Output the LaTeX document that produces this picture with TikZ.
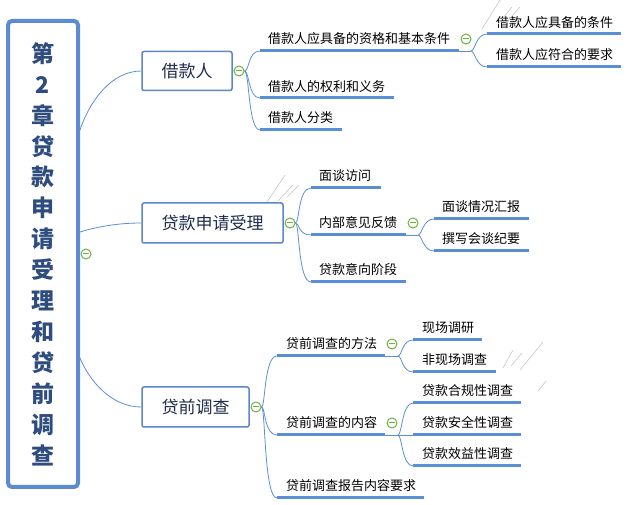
\documentclass[tikz,border=0pt]{standalone}
\usepackage{fontspec}
\newfontfamily\cjk{Noto Sans CJK SC}
\definecolor{lineblue}{HTML}{5A8FD6}
\definecolor{boxblue}{HTML}{5B87C8}
\definecolor{rootblue}{HTML}{5B8CD2}
\definecolor{roottext}{HTML}{2E4C7E}
\definecolor{topictext}{HTML}{1F2D4A}
\definecolor{foldgreen}{HTML}{6DB33F}
\tikzset{
  conn/.style={draw=lineblue, line width=0.8pt},
  uline/.style={draw=lineblue, line width=3pt},
  lbl/.style={anchor=west, inner sep=0pt, font=\cjk\fontsize{13}{13}\selectfont, text=black},
  topic/.style={draw=boxblue, line width=1.5pt, rounded corners=2pt, fill=white,
    font=\cjk\fontsize{17}{17}\selectfont, text=topictext, inner sep=0pt},
  fold/.style={circle, draw=foldgreen, line width=1pt, fill=white, minimum size=10pt, inner sep=0pt,
    path picture={\draw[foldgreen, line width=1pt] ([xshift=-3pt]path picture bounding box.center) -- ([xshift=3pt]path picture bounding box.center);}},
  ghost/.style={draw=gray!45, line width=0.6pt}
}
\begin{document}
\begin{tikzpicture}[x=1pt,y=-1pt]
\useasboundingbox (0,0) rectangle (633,505);

% root
\node[draw=rootblue, line width=4pt, rounded corners=4pt, fill=white, minimum width=70pt, minimum height=466pt,
  align=center, font=\cjk\bfseries\fontsize{23}{30.9}\selectfont, text=roottext, inner sep=0pt]
  (root) at (43,254) {第\\2\\章\\贷\\款\\申\\请\\受\\理\\和\\贷\\前\\调\\查};
\node[fold] (froot) at (86,254) {};

% level 1 topics
\node[topic, minimum width=90pt, minimum height=39pt] (t1) at (187,71) {借款人};
\node[topic, minimum width=141pt, minimum height=40pt] (t2) at (212.5,223) {贷款申请受理};
\node[topic, minimum width=107pt, minimum height=40pt] (t3) at (195.5,407) {贷前调查};

\coordinate (r1) at (80,130);
\coordinate (r2) at (80,232);
\coordinate (r3) at (80,358);
\draw[conn] (r1) .. controls (90,100) and (112,71) .. (t1.west);
\draw[conn] (r2) .. controls (100,226) and (120,223) .. (t2.west);
\draw[conn] (r3) .. controls (90,382) and (112,407) .. (t3.west);

\node[fold] (f1) at (239,71) {};
\node[fold] (f2) at (290,223) {};
\node[fold] (f3) at (256,407) {};

% ---- branch 1
\coordinate (a1s) at (260,51);  \coordinate (a1e) at (459,51);
\coordinate (a2s) at (260,98);  \coordinate (a2e) at (394,98);
\coordinate (a3s) at (260,130); \coordinate (a3e) at (342,130);
\node[lbl] (a1) at (268,39) {借款人应具备的资格和基本条件};
\node[lbl] (a2) at (268,87) {借款人的权利和义务};
\node[lbl] (a3) at (268,118) {借款人分类};
\foreach \s/\e in {a1s/a1e,a2s/a2e,a3s/a3e} \draw[uline] (\s) -- (\e);
\foreach \c in {a1s,a2s,a3s} \draw[conn] (f1.east) .. controls +(5,0) and +(-12,0) .. (\c);
\node[fold] (fa1) at (466,39) {};

\coordinate (j1) at (471,51);
\draw[conn] (a1e) -- (j1);
\coordinate (b1s) at (487,34); \coordinate (b1e) at (621,34);
\coordinate (b2s) at (487,67); \coordinate (b2e) at (621,67);
\node[lbl] (b1) at (496,23) {借款人应具备的条件};
\node[lbl] (b2) at (496,55) {借款人应符合的要求};
\foreach \s/\e in {b1s/b1e,b2s/b2e} \draw[uline] (\s) -- (\e);
\foreach \c in {b1s,b2s} \draw[conn] (j1) .. controls +(4,0) and +(-11,0) .. (\c);

% ---- branch 2
\coordinate (c1s) at (311,188); \coordinate (c1e) at (381,188);
\coordinate (c2s) at (311,235); \coordinate (c2e) at (406,235);
\coordinate (c3s) at (311,282); \coordinate (c3e) at (406,282);
\node[lbl] (c1) at (319,176) {面谈访问};
\node[lbl] (c2) at (319,223) {内部意见反馈};
\node[lbl] (c3) at (319,270) {贷款意向阶段};
\foreach \s/\e in {c1s/c1e,c2s/c2e,c3s/c3e} \draw[uline] (\s) -- (\e);
\foreach \c in {c1s,c2s,c3s} \draw[conn] (f2.east) .. controls +(4,0) and +(-13,0) .. (\c);
\node[fold] (fc2) at (413,223) {};

\coordinate (j2) at (418,235);
\draw[conn] (c2e) -- (j2);
\coordinate (d1s) at (434,219); \coordinate (d1e) at (529,219);
\coordinate (d2s) at (434,251); \coordinate (d2e) at (529,251);
\node[lbl] (d1) at (442,207) {面谈情况汇报};
\node[lbl] (d2) at (442,239) {撰写会谈纪要};
\foreach \s/\e in {d1s/d1e,d2s/d2e} \draw[uline] (\s) -- (\e);
\foreach \c in {d1s,d2s} \draw[conn] (j2) .. controls +(4,0) and +(-11,0) .. (\c);

% ---- branch 3
\coordinate (e1s) at (277,356); \coordinate (e1e) at (385,356);
\coordinate (e2s) at (277,435); \coordinate (e2e) at (385,435);
\coordinate (e3s) at (277,498); \coordinate (e3e) at (424,498);
\node[lbl] (e1) at (286,344) {贷前调查的方法};
\node[lbl] (e2) at (286,423) {贷前调查的内容};
\node[lbl] (e3) at (286,486) {贷前调查报告内容要求};
\foreach \s/\e in {e1s/e1e,e2s/e2e,e3s/e3e} \draw[uline] (\s) -- (\e);
\foreach \c in {e1s,e2s,e3s} \draw[conn] (f3.east) .. controls +(4,0) and +(-13,0) .. (\c);
\node[fold] (fe1) at (392,344) {};
\node[fold] (fe2) at (392,423) {};

\coordinate (j3) at (398,356);
\draw[conn] (e1e) -- (j3);
\coordinate (g1s) at (413,340); \coordinate (g1e) at (482,340);
\coordinate (g2s) at (413,372); \coordinate (g2e) at (496,372);
\node[lbl] (g1) at (422,328) {现场调研};
\node[lbl] (g2) at (422,360) {非现场调查};
\foreach \s/\e in {g1s/g1e,g2s/g2e} \draw[uline] (\s) -- (\e);
\foreach \c in {g1s,g2s} \draw[conn] (j3) .. controls +(4,0) and +(-11,0) .. (\c);

\coordinate (j4) at (398,435);
\draw[conn] (e2e) -- (j4);
\coordinate (h1s) at (413,403); \coordinate (h1e) at (521,403);
\coordinate (h2s) at (413,435); \coordinate (h2e) at (521,435);
\coordinate (h3s) at (413,466); \coordinate (h3e) at (521,466);
\node[lbl] (h1) at (422,391) {贷款合规性调查};
\node[lbl] (h2) at (422,423) {贷款安全性调查};
\node[lbl] (h3) at (422,454) {贷款效益性调查};
\foreach \s/\e in {h1s/h1e,h2s/h2e,h3s/h3e} \draw[uline] (\s) -- (\e);
\foreach \c in {h1s,h3s} \draw[conn] (j4) .. controls +(4,0) and +(-11,0) .. (\c);
\draw[conn] (j4) -- (h2s);

% faint ghost strokes
\draw[ghost] (285,175) -- (267,202);
\draw[ghost] (293,185) -- (278,201);
\draw[ghost] (299,185) -- (287,197);
\draw[ghost] (500,0) -- (482,29);
\draw[ghost] (512,7) -- (498,24);
\draw[ghost] (520,7) -- (505,24);
\draw[ghost] (543,342) -- (520,370);
\draw[ghost] (513,350) -- (503,368);
\draw[ghost] (522,353) -- (511,366);
\draw[ghost] (546,381) -- (538,391);
\draw[ghost] (521,441) -- (521,441);
\end{tikzpicture}
\end{document}
